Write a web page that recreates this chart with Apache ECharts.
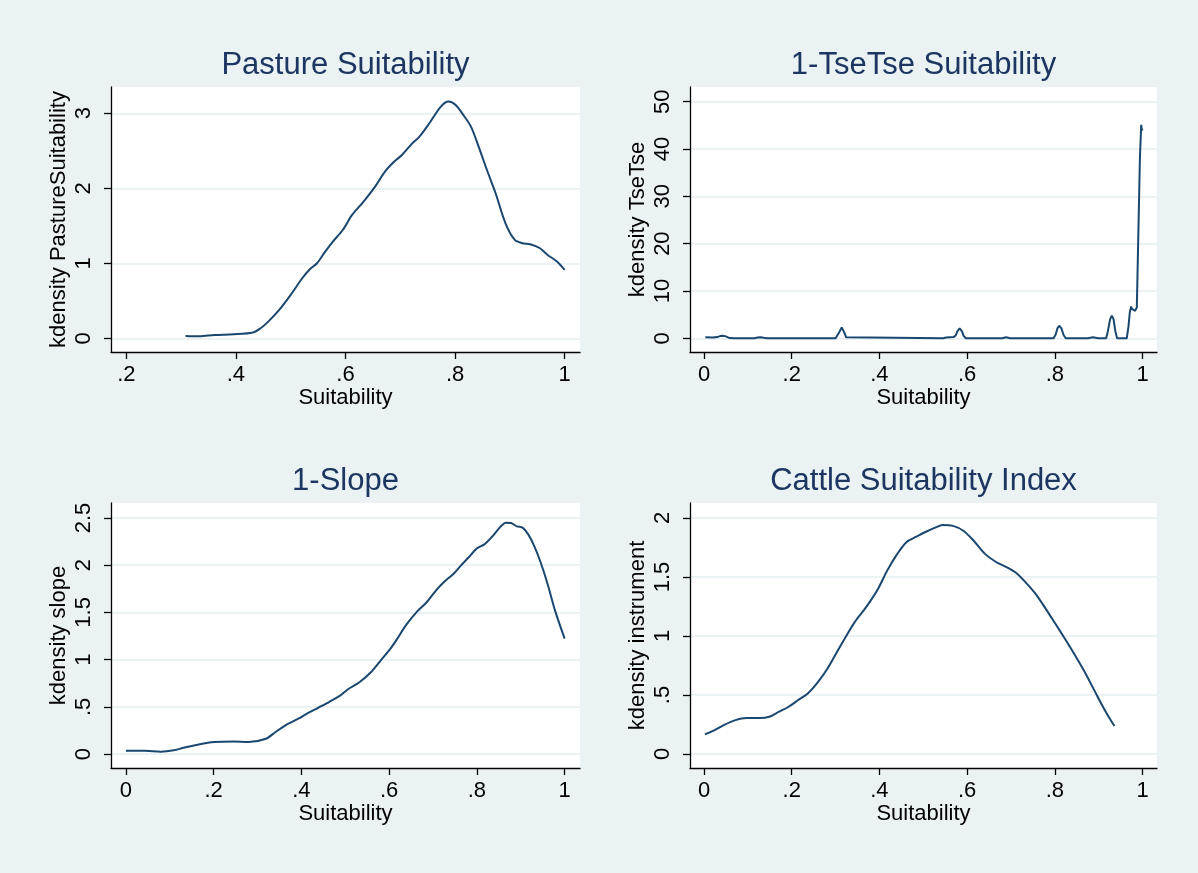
<!DOCTYPE html>
<html>
<head>
<meta charset="utf-8">
<title>Suitability kdensity</title>
<script src="https://cdn.jsdelivr.net/npm/echarts@6/dist/echarts.min.js"></script>
<style>
  html, body { margin: 0; padding: 0; background: #eaf2f3; }
  #chart { width: 1198px; height: 873px; }
</style>
</head>
<body>
<div id="chart"></div>
<script>
  // panel texts
  const titles = ["Pasture Suitability", "1-TseTse Suitability", "1-Slope", "Cattle Suitability Index"];
  const yNames = ["kdensity PastureSuitability", "kdensity TseTse", "kdensity slope", "kdensity instrument"];
  const xName = "Suitability";

  // tick values
  const xTicks1 = [0.2, 0.4, 0.6, 0.8, 1];
  const xTicks = [0, 0.2, 0.4, 0.6, 0.8, 1];
  const yTicks1 = [0, 1, 2, 3];
  const yTicks2 = [0, 10, 20, 30, 40, 50];
  const yTicks3 = [0, 0.5, 1, 1.5, 2, 2.5];
  const yTicks4 = [0, 0.5, 1, 1.5, 2];

  // Pasture Suitability
  const pastureX = [0.308, 0.333, 0.361, 0.396, 0.431, 0.445, 0.459, 0.479, 0.5, 0.521, 0.535, 0.548, 0.563, 0.577, 0.595, 0.612, 0.633, 0.654, 0.672, 0.689, 0.703, 0.721, 0.735, 0.753, 0.774, 0.788, 0.801, 0.815, 0.829, 0.843, 0.857, 0.874, 0.892, 0.909, 0.923, 0.937, 0.955, 0.969, 0.986, 1.0];
  const pastureY = [0.031, 0.027, 0.044, 0.053, 0.076, 0.133, 0.222, 0.378, 0.578, 0.8, 0.92, 1.0, 1.156, 1.289, 1.444, 1.644, 1.822, 2.022, 2.222, 2.356, 2.444, 2.591, 2.689, 2.867, 3.089, 3.156, 3.111, 2.978, 2.822, 2.556, 2.267, 1.933, 1.533, 1.311, 1.267, 1.253, 1.2, 1.111, 1.022, 0.911];

  // 1-TseTse Suitability
  const tseX = [0.003, 0.02, 0.03, 0.038, 0.043, 0.05, 0.058, 0.07, 0.115, 0.122, 0.129, 0.136, 0.145, 0.3, 0.304, 0.308, 0.314, 0.32, 0.324, 0.328, 0.545, 0.552, 0.569, 0.574, 0.578, 0.583, 0.588, 0.592, 0.597, 0.68, 0.689, 0.698, 0.797, 0.802, 0.806, 0.81, 0.815, 0.82, 0.825, 0.875, 0.887, 0.899, 0.917, 0.921, 0.926, 0.93, 0.934, 0.938, 0.942, 0.964, 0.968, 0.971, 0.974, 0.976, 0.978, 0.98, 0.983, 0.985, 0.987, 0.99, 0.994, 0.997, 0.998, 1.0];
  const tseY = [0.2, 0.15, 0.25, 0.5, 0.55, 0.4, 0.05, 0, 0, 0.15, 0.2, 0.1, 0, 0, 0.2, 1.2, 2.3, 1.2, 0.2, 0, 0, 0.15, 0.25, 0.6, 1.5, 2.1, 1.5, 0.5, 0, 0, 0.2, 0, 0, 0.8, 2.1, 2.65, 2.1, 0.7, 0, 0, 0.2, 0, 0, 1.5, 4.0, 4.8, 4.0, 1.5, 0, 0, 2.5, 5.5, 6.7, 6.2, 6.0, 6.3, 5.8, 6.0, 6.5, 20, 38, 45.1, 44.2, 43.9];

  // 1-Slope
  const slopeX = [0, 0.044, 0.079, 0.109, 0.131, 0.166, 0.201, 0.245, 0.279, 0.319, 0.341, 0.367, 0.393, 0.41, 0.437, 0.463, 0.489, 0.507, 0.533, 0.559, 0.581, 0.603, 0.62, 0.638, 0.664, 0.686, 0.707, 0.725, 0.747, 0.764, 0.782, 0.799, 0.817, 0.834, 0.852, 0.866, 0.878, 0.891, 0.904, 0.917, 0.93, 0.945, 0.961, 0.978, 1.0];
  const slopeY = [0.035, 0.035, 0.025, 0.039, 0.067, 0.102, 0.127, 0.134, 0.127, 0.162, 0.233, 0.314, 0.374, 0.42, 0.487, 0.551, 0.621, 0.689, 0.763, 0.869, 0.992, 1.116, 1.232, 1.363, 1.511, 1.61, 1.734, 1.822, 1.91, 1.999, 2.087, 2.175, 2.221, 2.299, 2.398, 2.451, 2.447, 2.412, 2.398, 2.327, 2.21, 2.034, 1.804, 1.522, 1.222];

  // Cattle Suitability Index
  const cattleX = [0.002, 0.023, 0.044, 0.07, 0.097, 0.127, 0.149, 0.17, 0.192, 0.214, 0.236, 0.257, 0.279, 0.301, 0.323, 0.344, 0.37, 0.397, 0.418, 0.44, 0.462, 0.483, 0.505, 0.527, 0.544, 0.566, 0.592, 0.614, 0.64, 0.666, 0.692, 0.714, 0.736, 0.757, 0.779, 0.801, 0.823, 0.844, 0.866, 0.888, 0.91, 0.923, 0.936];
  const cattleY = [0.167, 0.2, 0.243, 0.285, 0.305, 0.305, 0.316, 0.356, 0.398, 0.455, 0.511, 0.596, 0.709, 0.85, 0.992, 1.119, 1.246, 1.401, 1.556, 1.692, 1.797, 1.839, 1.881, 1.918, 1.941, 1.935, 1.89, 1.811, 1.698, 1.627, 1.579, 1.528, 1.444, 1.353, 1.232, 1.105, 0.977, 0.85, 0.709, 0.554, 0.398, 0.314, 0.237];

  const zip = (xs, ys) => xs.map((x, i) => [x, ys[i]]);
  const stataLabel = (v) => String(+v.toFixed(2)).replace(/^0\./, ".");

  const font = "Liberation Sans, Arial, sans-serif";
  const navy = "#1a476f";
  const bg = "#eaf2f3";

  const panels = [
    { grid: { left: 111, top: 87, width: 469, height: 265 }, xMin: 0.172, xMax: 1.028, yMin: -0.183, yMax: 3.35, xt: xTicks1, yt: yTicks1, data: zip(pastureX, pastureY), smooth: 0.3 },
    { grid: { left: 690, top: 87, width: 467, height: 265 }, xMin: -0.032, xMax: 1.033, yMin: -2.9, yMax: 53.1, xt: xTicks, yt: yTicks2, data: zip(tseX, tseY), smooth: false },
    { grid: { left: 111, top: 503, width: 469, height: 265 }, xMin: -0.034, xMax: 1.035, yMin: -0.148, yMax: 2.659, xt: xTicks, yt: yTicks3, data: zip(slopeX, slopeY), smooth: 0.3 },
    { grid: { left: 690, top: 503, width: 467, height: 265 }, xMin: -0.032, xMax: 1.033, yMin: -0.119, yMax: 2.127, xt: xTicks, yt: yTicks4, data: zip(cattleX, cattleY), smooth: 0.3 },
  ];

  const chart = echarts.init(document.getElementById("chart"));

  const option = {
    backgroundColor: bg,
    animation: false,
    graphic: panels.map((p, i) => ({
      type: "text",
      x: p.grid.left + p.grid.width / 2,
      y: p.grid.top - 22,
      style: {
        text: titles[i],
        font: "31px " + font,
        fill: "#1c3661",
        textAlign: "center",
        textVerticalAlign: "middle",
      },
    })),
    grid: panels.map((p) => ({
      ...p.grid,
      show: true,
      backgroundColor: "#fff",
      borderWidth: 0,
      containLabel: false,
    })),
    xAxis: panels.map((p, i) => ({
      type: "value",
      gridIndex: i,
      min: p.xMin,
      max: p.xMax,
      name: xName,
      nameLocation: "middle",
      nameGap: 35,
      nameTextStyle: { color: "#000", fontSize: 22, fontFamily: font },
      axisLine: { onZero: false, lineStyle: { color: "#000", width: 1.3 } },
      axisTick: { show: true, length: 7, customValues: p.xt, lineStyle: { color: "#000", width: 1.3 } },
      axisLabel: { customValues: p.xt, margin: 12, color: "#000", fontSize: 22, fontFamily: font, formatter: stataLabel },
      splitLine: { show: false },
    })),
    yAxis: panels.map((p, i) => ({
      type: "value",
      gridIndex: i,
      min: p.yMin,
      max: p.yMax,
      name: yNames[i],
      nameLocation: "middle",
      nameGap: 41,
      nameTextStyle: { color: "#000", fontSize: 22, fontFamily: font },
      axisLine: { show: true, onZero: false, lineStyle: { color: "#000", width: 1.3 } },
      axisTick: { show: true, length: 7, customValues: p.yt, lineStyle: { color: "#000", width: 1.3 } },
      axisLabel: { customValues: p.yt, rotate: 90, margin: 16, color: "#000", fontSize: 22, fontFamily: font, formatter: stataLabel },
      splitLine: { show: true, lineStyle: { color: bg, width: 2 } },
    })),
    series: panels.map((p, i) => ({
      type: "line",
      xAxisIndex: i,
      yAxisIndex: i,
      data: p.data,
      showSymbol: false,
      smooth: p.smooth,
      lineStyle: { color: navy, width: 2 },
    })),
  };

  chart.setOption(option);
</script>
</body>
</html>
